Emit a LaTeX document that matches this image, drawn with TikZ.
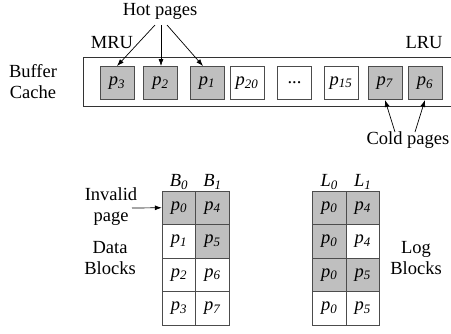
\documentclass[tikz,border=0pt]{standalone}
\usepackage{fontspec}
\setmainfont{Liberation Serif}
\usetikzlibrary{arrows.meta}

\newcommand{\pg}[1]{\textit{p}\textsubscript{\textit{#1}}}
\newcommand{\blk}[2]{\textit{#1}\textsubscript{\textit{#2}}}

\tikzset{
    every node/.style={font=\rmfamily\fontsize{18.5}{21}\selectfont},
    page/.style={draw=black!70, line width=0.9pt, minimum width=34pt, minimum height=33pt, inner sep=0pt},
    hotpage/.style={page, fill=black!25},
    cell/.style={draw=black!70, line width=1pt, minimum width=33.4pt, minimum height=33.5pt, inner sep=0pt},
    gcell/.style={cell, fill=black!25},
    txt/.style={align=center, inner sep=0pt},
    ptr/.style={-{Latex[length=7pt,width=5pt]}, line width=0.7pt},
}

\begin{document}
\begin{tikzpicture}[x=1pt, y=-1pt]
    \useasboundingbox (0,0) rectangle (451,333);

    % buffer cache
    \draw[line width=1.4pt, black!80] (452,57.3) -| (83.3,106.7) -- (452,106.7);
    \node[txt] (buf) at (33,82) {Buffer\\Cache};
    \node[txt] (mru) at (112,43) {MRU};
    \node[txt] (lru) at (424,43) {LRU};

    \node[hotpage] (p3)  at (117,83)   {\pg{3}};
    \node[hotpage] (p2)  at (160.5,83) {\pg{2}};
    \node[hotpage] (p1)  at (207,83)   {\pg{1}};
    \node[page]    (p20) at (247,83)   {\pg{20}};
    \node[page]    (dots) at (294.5,83) {...};
    \node[page]    (p15) at (341,83)   {\pg{15}};
    \node[hotpage] (p7)  at (385,83)   {\pg{7}};
    \node[hotpage] (p6)  at (425,83)   {\pg{6}};

    \node[txt] (hot) at (160,11) {Hot pages};
    \coordinate (h1) at (155,25);
    \coordinate (h2) at (161,25);
    \coordinate (h3) at (167,25);
    \draw[ptr] (h1) -- (p3.north);
    \draw[ptr] (h2) -- (p2.north -| h2);
    \draw[ptr] (h3) -- ([xshift=-4pt]p1.north);

    \node[txt] (cold) at (408,140) {Cold pages};
    \coordinate (c1) at (395,132);
    \coordinate (c2) at (415,132);
    \draw[ptr] (c1) -- (p7.south);
    \draw[ptr] (c2) -- (p6.south);

    % data blocks
    \node[txt] (b0) at (179,182) {\blk{B}{0}};
    \node[txt] (b1) at (212.4,182) {\blk{B}{1}};
    \foreach \r/\y/\sa/\la/\sb/\lb in {1/207.75/gcell/0/gcell/4, 2/241.25/cell/1/gcell/5,
                                       3/274.75/cell/2/cell/6, 4/308.25/cell/3/cell/7} {
        \node[\sa] (d-\r-1) at (179,\y) {\pg{\la}};
        \node[\sb] (d-\r-2) at (212.4,\y) {\pg{\lb}};
    }
    \node[txt] (inv) at (111,207) {Invalid\\page};
    \coordinate (ia) at (132,208);
    \draw[ptr] (ia) -- (d-1-1.west);
    \node[txt] (data) at (110,258) {Data\\Blocks};

    % log blocks
    \node[txt] (l0) at (329.3,182) {\blk{L}{0}};
    \node[txt] (l1) at (362.7,182) {\blk{L}{1}};
    \foreach \r/\y/\sa/\sb/\lb in {1/207.75/gcell/gcell/4, 2/241.25/gcell/cell/4,
                                   3/274.75/gcell/gcell/5, 4/308.25/cell/cell/5} {
        \node[\sa] (l-\r-1) at (329.3,\y) {\pg{0}};
        \node[\sb] (l-\r-2) at (362.7,\y) {\pg{\lb}};
    }
    \node[txt] (log) at (416,258) {Log\\Blocks};
\end{tikzpicture}
\end{document}
